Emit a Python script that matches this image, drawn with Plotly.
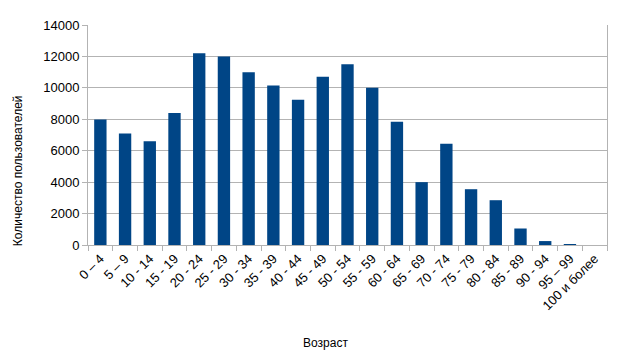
import plotly.graph_objects as go

categories = ["0 – 4", "5 – 9", "10 - 14", "15 - 19", "20 - 24", "25 - 29", "30 - 34",
              "35 - 39", "40 - 44", "45 - 49", "50 - 54", "55 - 59", "60 - 64", "65 - 69",
              "70 - 74", "75 - 79", "80 - 84", "85 - 89", "90 - 94", "95 – 99", "100 и более"]
users = [7980, 7100, 6600, 8400, 12200, 12000, 11000, 10150, 9250, 10700, 11500, 10000,
         7850, 4000, 6450, 3550, 2850, 1050, 250, 60, 0]
y_ticks = [0, 2000, 4000, 6000, 8000, 10000, 12000, 14000]
x_title = "Возраст"
y_title = "Количество пользователей"

grid = "#b3b3b3"
fig = go.Figure(go.Bar(x=categories, y=users,
                       marker=dict(color="#004586", line=dict(width=0)),
                       width=0.5))
fig.update_layout(
    width=627, height=357,
    margin=dict(l=88, r=20, t=25, b=112),
    paper_bgcolor="white", plot_bgcolor="white",
    font=dict(family="Liberation Sans", size=13, color="#000000"),
    showlegend=False,
    bargap=0.5,
    annotations=[
        dict(text=x_title, xref="paper", yref="paper", x=0.457, y=-0.445,
             xanchor="center", yanchor="middle", showarrow=False, font=dict(size=12)),
        dict(text=y_title, xref="paper", yref="paper", x=-0.135, y=0.34,
             xanchor="center", yanchor="middle", showarrow=False, textangle=-90,
             font=dict(size=12)),
    ],
)
fig.update_xaxes(
    type="category", tickangle=-45, tickson="boundaries", ticks="outside", ticklen=5,
    tickcolor=grid, showline=True, linecolor=grid, linewidth=1, showgrid=False,
    tickfont=dict(size=13),
)
fig.update_yaxes(
    range=[0, 14000], tickvals=y_ticks, tickformat="d", ticks="outside", ticklen=5,
    tickcolor=grid, showline=True, linecolor=grid, linewidth=1, mirror=True,
    showgrid=True, gridcolor=grid, gridwidth=1, zeroline=False, tickfont=dict(size=13),
)
fig.write_html("out.html")
